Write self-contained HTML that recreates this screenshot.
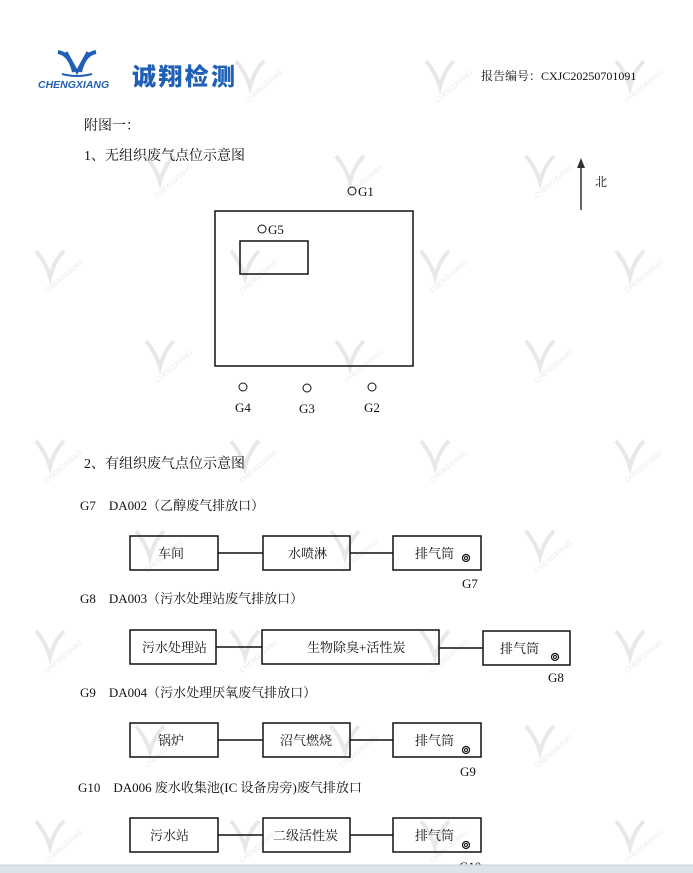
<!DOCTYPE html>
<html><head><meta charset="utf-8"><style>
html,body{margin:0;padding:0;background:#fff;}
svg{display:block;}
text{font-family:"Liberation Serif","Noto Serif CJK SC",serif;fill:#111;}
</style></head><body>
<svg width="693" height="873" viewBox="0 0 693 873" xmlns="http://www.w3.org/2000/svg">
<defs>
<g id="wm" opacity="0.22">
<path d="M-14,-14 Q-4,-2 0,12 Q4,-4 14,-14" fill="none" stroke="#999" stroke-width="4"/>
<text x="-14" y="22" transform="rotate(-40 0 10)" style="font-family:'Liberation Sans',sans-serif;font-size:7px;font-style:italic;fill:#999">CHENGXIANG</text>
</g>
</defs>
<g>
<use href="#wm" x="440" y="75"/><use href="#wm" x="630" y="75"/><use href="#wm" x="250" y="75"/>
<use href="#wm" x="160" y="170"/><use href="#wm" x="350" y="170"/><use href="#wm" x="540" y="170"/>
<use href="#wm" x="50" y="265"/><use href="#wm" x="245" y="265"/><use href="#wm" x="435" y="265"/><use href="#wm" x="630" y="265"/>
<use href="#wm" x="160" y="355"/><use href="#wm" x="350" y="355"/><use href="#wm" x="540" y="355"/>
<use href="#wm" x="50" y="455"/><use href="#wm" x="245" y="455"/><use href="#wm" x="435" y="455"/><use href="#wm" x="630" y="455"/>
<use href="#wm" x="150" y="545"/><use href="#wm" x="345" y="545"/><use href="#wm" x="540" y="545"/>
<use href="#wm" x="50" y="645"/><use href="#wm" x="245" y="645"/><use href="#wm" x="435" y="645"/><use href="#wm" x="630" y="645"/>
<use href="#wm" x="150" y="740"/><use href="#wm" x="345" y="740"/><use href="#wm" x="540" y="740"/>
<use href="#wm" x="50" y="835"/><use href="#wm" x="245" y="835"/><use href="#wm" x="435" y="835"/><use href="#wm" x="630" y="835"/>
</g>
<!-- logo -->
<path d="M58,52 Q70,54 74,72 M96,52 Q84,54 80,72" fill="none" stroke="#1f5fb5" stroke-width="4"/>
<path d="M66,52 L77,72 L88,52" fill="none" stroke="#1f5fb5" stroke-width="3"/>
<path d="M62,74 Q77,78 92,74" fill="none" stroke="#1f5fb5" stroke-width="2"/>
<text x="38" y="88" style="font-family:'Liberation Sans',sans-serif;font-weight:bold;font-style:italic;font-size:10.5px;fill:#1f5fb5">CHENGXIANG</text>
<text x="132" y="85" style="font-family:'Noto Sans CJK SC',sans-serif;font-weight:900;font-size:24px;fill:#1f5fb5" textLength="103">诚翔检测</text>
<text x="481" y="80" style="font-size:12px">报告编号：CXJC20250701091</text>
<text x="84" y="130" style="font-size:14px">附图一：</text>
<text x="84" y="160" style="font-size:14px">1、无组织废气点位示意图</text>
<line x1="581" y1="166" x2="581" y2="210" stroke="#333" stroke-width="1.5"/>
<polygon points="581,158 577,168 585,168" fill="#333"/>
<text x="595" y="186" style="font-size:12px">北</text>
<rect x="215" y="211" width="198" height="155" fill="none" stroke="#111" stroke-width="1.5"/>
<rect x="240" y="241" width="68" height="33" fill="none" stroke="#111" stroke-width="1.5"/>
<circle cx="352" cy="191" r="4" fill="none" stroke="#111"/><text x="358" y="196" style="font-size:13px">G1</text>
<circle cx="262" cy="229" r="4" fill="none" stroke="#111"/><text x="268" y="234" style="font-size:13px">G5</text>
<circle cx="243" cy="387" r="4" fill="none" stroke="#111"/><text x="235" y="412" style="font-size:13px">G4</text>
<circle cx="307" cy="388" r="4" fill="none" stroke="#111"/><text x="299" y="413" style="font-size:13px">G3</text>
<circle cx="372" cy="387" r="4" fill="none" stroke="#111"/><text x="364" y="412" style="font-size:13px">G2</text>
<text x="84" y="468" style="font-size:14px">2、有组织废气点位示意图</text>
<g fill="none" stroke="#111" stroke-width="1.5">
<rect x="130" y="536" width="88" height="34"/><rect x="263" y="536" width="87" height="34"/><rect x="393" y="536" width="88" height="34"/>
<line x1="218" y1="553" x2="263" y2="553"/><line x1="350" y1="553" x2="393" y2="553"/>
<rect x="130" y="630" width="86" height="34"/><rect x="262" y="630" width="177" height="34"/><rect x="483" y="631" width="87" height="34"/>
<line x1="216" y1="647" x2="262" y2="647"/><line x1="439" y1="648" x2="483" y2="648"/>
<rect x="130" y="723" width="88" height="34"/><rect x="263" y="723" width="87" height="34"/><rect x="393" y="723" width="88" height="34"/>
<line x1="218" y1="740" x2="263" y2="740"/><line x1="350" y1="740" x2="393" y2="740"/>
<rect x="130" y="818" width="88" height="34"/><rect x="263" y="818" width="87" height="34"/><rect x="393" y="818" width="88" height="34"/>
<line x1="218" y1="835" x2="263" y2="835"/><line x1="350" y1="835" x2="393" y2="835"/>
</g>
<g fill="none" stroke="#111">
<circle cx="466" cy="558" r="3.5" stroke-width="1.2"/><circle cx="466" cy="558" r="1.5"/>
<circle cx="555" cy="657" r="3.5" stroke-width="1.2"/><circle cx="555" cy="657" r="1.5"/>
<circle cx="466" cy="750" r="3.5" stroke-width="1.2"/><circle cx="466" cy="750" r="1.5"/>
<circle cx="466" cy="845" r="3.5" stroke-width="1.2"/><circle cx="466" cy="845" r="1.5"/>
</g>
<g style="font-size:13px">
<text x="80" y="510">G7　DA002（乙醇废气排放口）</text>
<text x="158" y="558">车间</text><text x="288" y="558">水喷淋</text><text x="415" y="558">排气筒</text>
<text x="462" y="588">G7</text>
<text x="80" y="603">G8　DA003（污水处理站废气排放口）</text>
<text x="142" y="652">污水处理站</text><text x="307" y="652">生物除臭+活性炭</text><text x="500" y="653">排气筒</text>
<text x="548" y="682">G8</text>
<text x="80" y="697">G9　DA004（污水处理厌氧废气排放口）</text>
<text x="158" y="745">锅炉</text><text x="280" y="745">沼气燃烧</text><text x="415" y="745">排气筒</text>
<text x="460" y="776">G9</text>
<text x="78" y="792">G10　DA006 废水收集池(IC 设备房旁)废气排放口</text>
<text x="150" y="840">污水站</text><text x="273" y="840">二级活性炭</text><text x="415" y="840">排气筒</text>
<text x="459" y="871">G10</text>
</g>
<rect x="0" y="865" width="693" height="8" fill="#dde3ea"/>
<line x1="0" y1="865" x2="693" y2="865" stroke="#c8cfd8"/>
</svg>
</body></html>
